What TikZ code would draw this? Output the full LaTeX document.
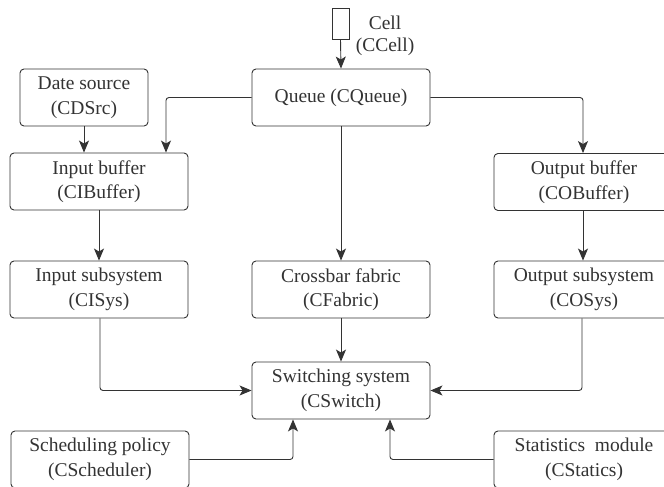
\documentclass[tikz,border=0pt]{standalone}
\usepackage{fontspec}
\setmainfont{Liberation Serif}
\usetikzlibrary{arrows.meta}
\definecolor{ink}{HTML}{333333}
\begin{document}
\begin{tikzpicture}[x=1pt,y=-1pt,
  box/.style={draw=ink, line width=0.9pt, rounded corners=4pt, text=ink, align=center,
    inner sep=0pt, minimum height=57pt, font=\fontsize{19.5}{24.5}\selectfont},
  lbl/.style={text=ink, align=center, inner sep=0pt, font=\fontsize{19.5}{22}\selectfont},
  arr/.style={draw=ink, line width=0.9pt, rounded corners=3pt,
    -{Stealth[length=12pt,width=10pt,inset=3pt]}}]
\clip (0,0) rectangle (664,487);
\fill[white] (0,0) rectangle (664,487);
% cell
\node[draw=ink, line width=0.9pt, minimum width=17pt, minimum height=31pt, inner sep=0pt] (cell) at (340.5,23.5) {};
\node[lbl] (celllbl) at (385,36) {Cell\\(CCell)};
% boxes
\node[box, minimum width=128pt] (dsrc) at (84,97.5) {Date source\\(CDSrc)};
\node[box, minimum width=178pt] (queue) at (341,97.5) {Queue (CQueue)};
\node[box, minimum width=178pt] (ibuf) at (99,181.5) {Input buffer\\(CIBuffer)};
\node[box, minimum width=180pt] (obuf) at (584,182) {Output buffer\\(COBuffer)};
\node[box, minimum width=178pt] (isys) at (99,289.5) {Input subsystem\\(CISys)};
\node[box, minimum width=178pt] (fabric) at (341,289.5) {Crossbar fabric\\(CFabric)};
\node[box, minimum width=180pt] (osys) at (584,289.5) {Output subsystem\\(COSys)};
\node[box, minimum width=178pt] (switch) at (341,390.5) {Switching system\\(CSwitch)};
\node[box, minimum width=178pt] (sched) at (100,459.5) {Scheduling policy\\(CScheduler)};
\node[box, minimum width=180pt] (stat) at (584,459.5) {Statistics\ \ module\\(CStatics)};
% connectors
\draw[arr] (cell.south) -- (queue.north);
\draw[arr] (queue.west) -| ([xshift=67pt]ibuf.north);
\draw[arr] (queue.east) -| ([xshift=-1pt]obuf.north);
\draw[arr] (queue.south) -- (fabric.north);
\draw[arr] (dsrc.south) -- (dsrc.south |- ibuf.north);
\draw[arr] (ibuf.south) -- (isys.north);
\draw[arr] ([xshift=-1pt]obuf.south) -- ([xshift=-1pt]osys.north);
\draw[arr] ([xshift=1pt]isys.south) |- (switch.west);
\draw[arr] (fabric.south) -- (switch.north);
\draw[arr] ([xshift=-2pt]osys.south) |- (switch.east);
\draw[arr] (sched.east) -| ([xshift=-48pt]switch.south);
\draw[arr] (stat.west) -| ([xshift=49pt]switch.south);
\end{tikzpicture}
\end{document}
